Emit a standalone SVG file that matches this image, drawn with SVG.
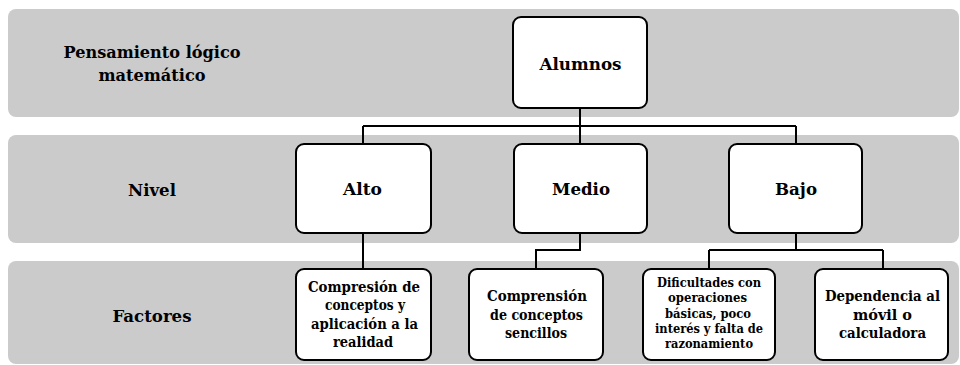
<svg xmlns="http://www.w3.org/2000/svg" width="960" height="365" viewBox="0 0 960 365">
<style>
.band{fill:#cbcbcb;}
.box{fill:#ffffff;stroke:#000000;stroke-width:2;}
.t{font-family:'DejaVu Serif',serif;font-weight:700;fill:#000000;text-anchor:middle;}
.lbl{font-size:17.5px;}
.f{font-size:14.5px;}
.s{font-size:12.8px;}
.con{fill:none;stroke:#000000;stroke-width:2;}
</style>
<g id="bands">
<rect class="band" x="8" y="9" width="951" height="108" rx="8"/>
<rect class="band" x="8" y="135" width="951" height="108" rx="8"/>
<rect class="band" x="8" y="261" width="951" height="103" rx="8"/>
</g>
<g id="row-labels">
<text class="t lbl" x="152" y="58" textLength="177" lengthAdjust="spacingAndGlyphs">Pensamiento lógico</text>
<text class="t lbl" x="152" y="81" textLength="107" lengthAdjust="spacingAndGlyphs">matemático</text>
<text class="t lbl" x="152" y="196" textLength="48" lengthAdjust="spacingAndGlyphs">Nivel</text>
<text class="t lbl" x="152" y="322" textLength="79" lengthAdjust="spacingAndGlyphs">Factores</text>
</g>
<g id="connectors">
<path class="con" d="M580 108 V126 M363 126 H796 M363 126 V144 M580 126 V144 M796 126 V144"/>
<path class="con" d="M363 233 V269"/>
<path class="con" d="M580 233 V250 H536 V269"/>
<path class="con" d="M796 233 V250 M709 250 H883 M709 250 V269 M883 250 V269"/>
</g>
<g id="alumnos">
<rect class="box" x="513" y="17" width="134" height="91" rx="8"/>
<text class="t lbl" x="580.5" y="70" textLength="82" lengthAdjust="spacingAndGlyphs">Alumnos</text>
</g>
<g id="alto">
<rect class="box" x="296" y="144" width="135" height="89" rx="8"/>
<text class="t lbl" x="362.5" y="195" textLength="39" lengthAdjust="spacingAndGlyphs">Alto</text>
</g>
<g id="medio">
<rect class="box" x="514" y="144" width="133" height="89" rx="8"/>
<text class="t lbl" x="581" y="195" textLength="58" lengthAdjust="spacingAndGlyphs">Medio</text>
</g>
<g id="bajo">
<rect class="box" x="729" y="144" width="133" height="89" rx="8"/>
<text class="t lbl" x="796" y="195" textLength="42" lengthAdjust="spacingAndGlyphs">Bajo</text>
</g>
<g id="f-alto">
<rect class="box" x="296" y="269" width="135" height="91" rx="8"/>
<text class="t f" x="364" y="291.5" textLength="112" lengthAdjust="spacingAndGlyphs">Compresión de</text>
<text class="t f" x="365" y="310" textLength="80" lengthAdjust="spacingAndGlyphs">conceptos y</text>
<text class="t f" x="364.5" y="328.5" textLength="107" lengthAdjust="spacingAndGlyphs">aplicación a la</text>
<text class="t f" x="363" y="347" textLength="60" lengthAdjust="spacingAndGlyphs">realidad</text>
</g>
<g id="f-medio">
<rect class="box" x="469" y="269" width="134" height="91" rx="8"/>
<text class="t f" x="537" y="301" textLength="100" lengthAdjust="spacingAndGlyphs">Comprensión</text>
<text class="t f" x="536.5" y="319.5" textLength="93" lengthAdjust="spacingAndGlyphs">de conceptos</text>
<text class="t f" x="536" y="338" textLength="62" lengthAdjust="spacingAndGlyphs">sencillos</text>
</g>
<g id="f-bajo1">
<rect class="box" x="643" y="269" width="132" height="91" rx="8"/>
<text class="t s" x="709" y="287" textLength="104" lengthAdjust="spacingAndGlyphs">Dificultades con</text>
<text class="t s" x="707.5" y="302" textLength="79" lengthAdjust="spacingAndGlyphs">operaciones</text>
<text class="t s" x="708" y="317.5" textLength="86" lengthAdjust="spacingAndGlyphs">básicas, poco</text>
<text class="t s" x="709" y="333" textLength="108" lengthAdjust="spacingAndGlyphs">interés y falta de</text>
<text class="t s" x="709" y="348" textLength="88" lengthAdjust="spacingAndGlyphs">razonamiento</text>
</g>
<g id="f-bajo2">
<rect class="box" x="815" y="269" width="133" height="91" rx="8"/>
<text class="t f" x="882.5" y="301" textLength="115" lengthAdjust="spacingAndGlyphs">Dependencia al</text>
<text class="t f" x="882.5" y="319.5" textLength="59" lengthAdjust="spacingAndGlyphs">móvil o</text>
<text class="t f" x="882.5" y="338" textLength="87" lengthAdjust="spacingAndGlyphs">calculadora</text>
</g>
</svg>
